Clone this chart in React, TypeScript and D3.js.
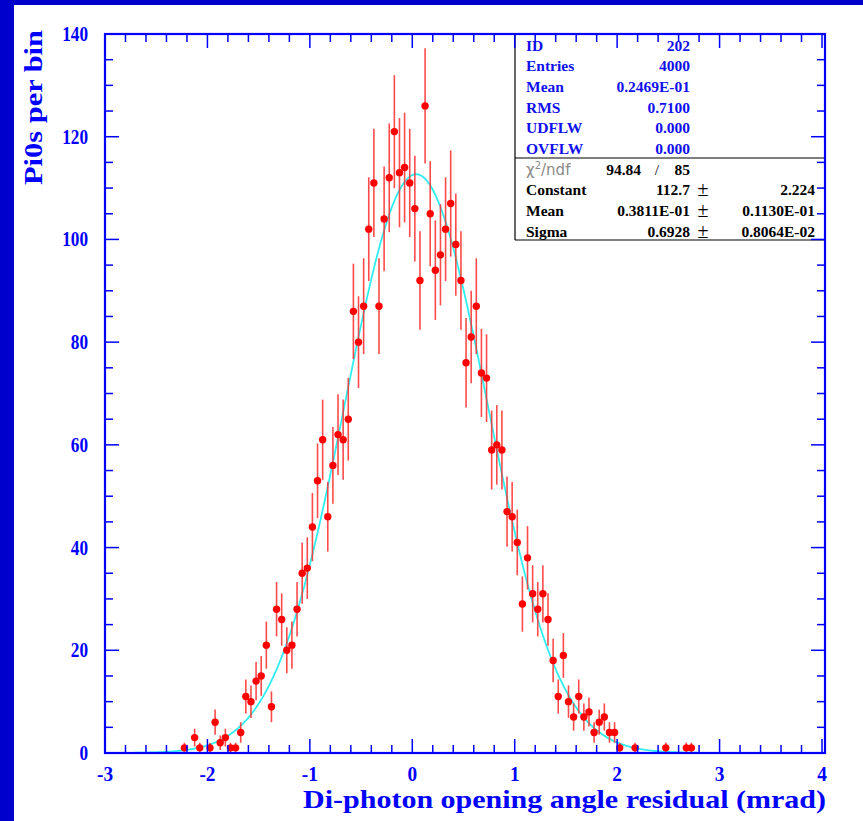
import React from "react";
import * as d3 from "d3";

// ---- data ----
const binCenters = [
  -2.225, -2.125, -2.075, -1.975, -1.925, -1.875, -1.825, -1.775, -1.725, -1.675,
  -1.625, -1.575, -1.525, -1.475, -1.425, -1.375, -1.325, -1.275, -1.225, -1.175,
  -1.125, -1.075, -1.025, -0.975, -0.925, -0.875, -0.825, -0.775, -0.725, -0.675,
  -0.625, -0.575, -0.525, -0.475, -0.425, -0.375, -0.325, -0.275, -0.225, -0.175,
  -0.125, -0.075, -0.025, 0.025, 0.075, 0.125, 0.175, 0.225, 0.275, 0.325,
  0.375, 0.425, 0.475, 0.525, 0.575, 0.625, 0.675, 0.725, 0.775, 0.825,
  0.875, 0.925, 0.975, 1.025, 1.075, 1.125, 1.175, 1.225, 1.275, 1.325,
  1.375, 1.425, 1.475, 1.525, 1.575, 1.625, 1.675, 1.725, 1.775, 1.825,
  1.875, 1.925, 1.975, 2.025, 2.175, 2.475, 2.675, 2.725,
];
const binCounts = [
  1, 3, 1, 1, 6, 2, 3, 1, 1, 4,
  11, 10, 14, 15, 21, 9, 28, 26, 20, 21,
  28, 35, 36, 44, 53, 61, 46, 56, 62, 61,
  65, 86, 80, 87, 102, 111, 87, 104, 112, 121,
  113, 114, 111, 106, 92, 126, 105, 94, 97, 102,
  107, 99, 92, 76, 81, 87, 74, 73, 59, 60,
  59, 47, 46, 41, 29, 38, 31, 28, 31, 26,
  18, 11, 19, 10, 7, 11, 7, 8, 4, 6,
  7, 4, 4, 1, 1, 1, 1, 1,
];
const fitConstant = 112.7;
const fitMean = 0.03811;
const fitSigma = 0.6928;

const xTickValues = [-3, -2, -1, 0, 1, 2, 3, 4];
const yTickValues = [0, 20, 40, 60, 80, 100, 120, 140];

const statsTop = [
  ["ID", "202"],
  ["Entries", "4000"],
  ["Mean", "0.2469E-01"],
  ["RMS", "0.7100"],
  ["UDFLW", "0.000"],
  ["OVFLW", "0.000"],
];
const statsFit = [
  ["Constant", "112.7", "2.224"],
  ["Mean", "0.3811E-01", "0.1130E-01"],
  ["Sigma", "0.6928", "0.8064E-02"],
];
const chi2Value = "94.84";
const ndfValue = "85";

export default function App() {
  const W = 863, H = 821;
  const left = 105, right = 825, top = 34, bottom = 753;
  const x = d3.scaleLinear().domain([-3, 4]).range([left, 822]);
  const y = d3.scaleLinear().domain([0, 140]).range([bottom, top]);
  const blue = "#0000ff";
  const font = "'Liberation Serif', 'Times New Roman', serif";

  const minorX = d3.range(-3, 4.001, 0.2).map((v) => +v.toFixed(2));
  const minorY = d3.range(0, 140.001, 5);

  const fitPts = d3.range(-3, 4.0001, 0.01).map((v) => [
    v,
    fitConstant * Math.exp(-0.5 * Math.pow((v - fitMean) / fitSigma, 2)),
  ]);
  const line = d3
    .line<number[]>()
    .x((d) => x(d[0]))
    .y((d) => y(d[1]))
    .curve(d3.curveLinear);

  const boxL = 515;
  const rowY = (i: number) => 50.5 + i * 20.7;

  return (
    <svg
      width={W}
      height={H}
      style={{ position: "absolute", left: 0, top: 0, display: "block" }}
      fontFamily={font}
    >
      <rect x={0} y={0} width={W} height={H} fill="#ffffff" />
      <rect x={0} y={0} width={W} height={5} fill="#0000cc" />
      <rect x={0} y={0} width={14} height={H} fill="#0000cc" />

      {/* fit curve */}
      <path d={line(fitPts) || ""} fill="none" stroke="#30eef0" strokeWidth={1.8} />

      {/* error bars and markers */}
      <g>
        {binCenters.map((c, i) => {
          const n = binCounts[i];
          const e = Math.sqrt(n);
          return (
            <line
              key={"e" + i}
              x1={x(c)}
              x2={x(c)}
              y1={y(n - e)}
              y2={y(n + e)}
              stroke="#ff2a2a"
              strokeOpacity={0.85}
              strokeWidth={1.6}
            />
          );
        })}
        {binCenters.map((c, i) => (
          <circle key={"m" + i} cx={x(c)} cy={y(binCounts[i])} r={3.7} fill="#ff0000" />
        ))}
      </g>

      {/* stats box */}
      <rect x={boxL} y={top} width={right - boxL} height={240 - top} fill="#ffffff" />
      <line x1={boxL} x2={boxL} y1={top} y2={240} stroke="#000" strokeWidth={1.2} />
      <line x1={boxL} x2={right} y1={158} y2={158} stroke="#000" strokeWidth={1.2} />
      <line x1={boxL} x2={right} y1={240} y2={240} stroke="#000" strokeWidth={1.2} />
      <g fontWeight="bold" fontSize={15.5}>
        {statsTop.map((r, i) => (
          <g key={"st" + i} fill="#1010ee">
            <text x={526} y={rowY(i)}>{r[0]}</text>
            <text x={690} y={rowY(i)} textAnchor="end">{r[1]}</text>
          </g>
        ))}
        <text
          x={526}
          y={rowY(6)}
          fill="#8a8a8a"
          fontWeight="normal"
          fontFamily="'DejaVu Sans', sans-serif"
          fontSize={15}
        >
          χ<tspan fontSize={10} dy={-6}>2</tspan>
          <tspan dy={6}>/ndf</tspan>
        </text>
        <text x={641} y={rowY(6)} textAnchor="end" fill="#000">{chi2Value}</text>
        <text x={657} y={rowY(6)} textAnchor="middle" fill="#000" fontWeight="normal">/</text>
        <text x={690} y={rowY(6)} textAnchor="end" fill="#000">{ndfValue}</text>
        {statsFit.map((r, i) => (
          <g key={"sf" + i} fill="#000">
            <text x={526} y={rowY(7 + i)}>{r[0]}</text>
            <text x={690} y={rowY(7 + i)} textAnchor="end">{r[1]}</text>
            <text x={703} y={rowY(7 + i) + 1} textAnchor="middle" fontWeight="normal" fontSize={20}>±</text>
            <text x={815} y={rowY(7 + i)} textAnchor="end">{r[2]}</text>
          </g>
        ))}
      </g>

      {/* frame and ticks */}
      <g stroke={blue} strokeWidth={1.5}>
        {minorX.map((v, i) => {
          const major = Math.abs(v - Math.round(v)) < 1e-6;
          const len = major ? 14 : 8;
          return (
            <g key={"tx" + i}>
              <line x1={x(v)} x2={x(v)} y1={bottom} y2={bottom - len} />
              <line x1={x(v)} x2={x(v)} y1={top} y2={top + len} />
            </g>
          );
        })}
        {minorY.map((v, i) => {
          const major = v % 20 === 0;
          const len = major ? 14 : 8;
          return (
            <g key={"ty" + i}>
              <line x1={left} x2={left + len} y1={y(v)} y2={y(v)} />
              <line x1={right} x2={right - len} y1={y(v)} y2={y(v)} />
            </g>
          );
        })}
      </g>
      <rect
        x={left}
        y={top}
        width={right - left}
        height={bottom - top}
        fill="none"
        stroke={blue}
        strokeWidth={2.2}
      />

      {/* tick labels */}
      <g fill={blue} fontWeight="bold" fontSize={21}>
        {xTickValues.map((v) => (
          <text
            key={"lx" + v}
            transform={`translate(${x(v)},781) scale(0.92,1)`}
            textAnchor="middle"
          >
            {v}
          </text>
        ))}
        {yTickValues.map((v) => (
          <text
            key={"ly" + v}
            transform={`translate(88,${y(v) + 7}) scale(0.82,1)`}
            textAnchor="end"
          >
            {v}
          </text>
        ))}
      </g>

      {/* axis titles */}
      <text
        x={303}
        y={808}
        fill={blue}
        fontWeight="bold"
        fontSize={26}
        textLength={523}
        lengthAdjust="spacingAndGlyphs"
      >
        Di-photon opening angle residual (mrad)
      </text>
      <text
        transform="translate(42,185) rotate(-90)"
        x={0}
        y={0}
        fill={blue}
        fontWeight="bold"
        fontSize={26}
        textLength={155}
        lengthAdjust="spacingAndGlyphs"
      >
        Pi0s per bin
      </text>
    </svg>
  );
}
